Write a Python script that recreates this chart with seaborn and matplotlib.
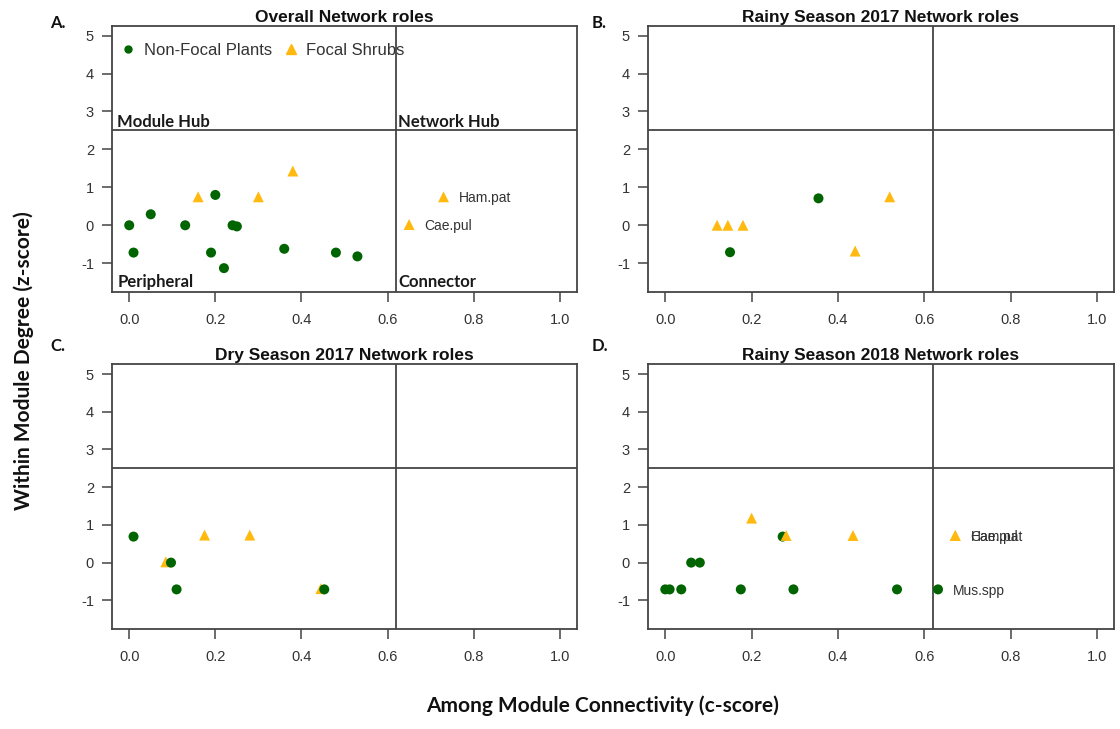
import matplotlib
matplotlib.use("Agg")
import matplotlib.pyplot as plt
import seaborn as sns
import pandas as pd
from matplotlib.lines import Line2D

NONFOCAL = "Non-Focal Plants"
FOCAL = "Focal Shrubs"

# ---- network roles: among-module connectivity (c) and within-module degree (z)
overall_c = [0.00, 0.01, 0.05, 0.13, 0.20, 0.19, 0.22, 0.24, 0.25, 0.36, 0.48, 0.53,
             0.16, 0.30, 0.38, 0.73, 0.65]
overall_z = [0.00, -0.72, 0.29, 0.00, 0.80, -0.72, -1.13, 0.00, -0.03, -0.62, -0.72, -0.82,
             0.75, 0.75, 1.43, 0.75, 0.02]
overall_kind = [NONFOCAL] * 12 + [FOCAL] * 5
overall_name = [""] * 15 + ["Ham.pat", "Cae.pul"]

rainy17_c = [0.355, 0.15, 0.12, 0.145, 0.18, 0.52, 0.44]
rainy17_z = [0.71, -0.71, 0.00, 0.00, 0.00, 0.75, -0.68]
rainy17_kind = [NONFOCAL] * 2 + [FOCAL] * 5
rainy17_name = [""] * 7

dry17_c = [0.085, 0.175, 0.28, 0.445, 0.01, 0.097, 0.11, 0.453]
dry17_z = [0.02, 0.73, 0.73, -0.69, 0.69, 0.00, -0.71, -0.71]
dry17_kind = [FOCAL] * 4 + [NONFOCAL] * 4
dry17_name = [""] * 8

rainy18_c = [0.00, 0.01, 0.037, 0.06, 0.08, 0.175, 0.272, 0.297, 0.537, 0.632,
             0.20, 0.28, 0.435, 0.672, 0.672]
rainy18_z = [-0.71, -0.71, -0.71, 0.00, 0.00, -0.71, 0.69, -0.71, -0.71, -0.71,
             1.18, 0.72, 0.72, 0.72, 0.72]
rainy18_kind = [NONFOCAL] * 10 + [FOCAL] * 5
rainy18_name = [""] * 9 + ["Mus.spp", "", "", "", "Cae.pul", "Ham.pat"]

panel_titles = ["Overall Network roles", "Rainy Season 2017 Network roles",
                "Dry Season 2017 Network roles", "Rainy Season 2018 Network roles"]
panel_letters = ["A.", "B.", "C.", "D."]
x_ticks = [0.0, 0.2, 0.4, 0.6, 0.8, 1.0]
y_ticks = [-1, 0, 1, 2, 3, 4, 5]
c_threshold = 0.62
z_threshold = 2.5

panels = [
    (overall_c, overall_z, overall_kind, overall_name),
    (rainy17_c, rainy17_z, rainy17_kind, rainy17_name),
    (dry17_c, dry17_z, dry17_kind, dry17_name),
    (rainy18_c, rainy18_z, rainy18_kind, rainy18_name),
]

GREEN = "#006400"
GOLD = "#FFB90F"
INK = "#333333"
FRAME = "#444444"

sns.set_theme(style="white")
plt.rcParams["font.family"] = ["Liberation Sans", "DejaVu Sans"]
HEAVY = ["Lato", "DejaVu Sans"]

fig = plt.figure(figsize=(11.2, 7.29), dpi=100)
rects = [
    [0.1000, 0.5994, 0.4152, 0.3653],
    [0.5786, 0.5994, 0.4161, 0.3653],
    [0.1000, 0.1372, 0.4152, 0.3631],
    [0.5786, 0.1372, 0.4161, 0.3631],
]
letter_pos = [(0.045, 0.968), (0.528, 0.968), (0.045, 0.525), (0.528, 0.525)]

for i, ((c, z, kind, name), rect) in enumerate(zip(panels, rects)):
    ax = fig.add_axes(rect)
    df = pd.DataFrame({"c": c, "z": z, "kind": kind, "name": name})
    sns.scatterplot(
        data=df, x="c", y="z", hue="kind", style="kind", size="kind",
        palette={NONFOCAL: GREEN, FOCAL: GOLD},
        markers={NONFOCAL: "o", FOCAL: "^"},
        sizes={NONFOCAL: 52, FOCAL: 62},
        linewidth=0, legend=False, ax=ax, zorder=3,
    )
    ax.set_xlim(-0.04, 1.04)
    ax.set_ylim(-1.76, 5.26)
    ax.axvline(c_threshold, color=FRAME, lw=1.3, zorder=2)
    ax.axhline(z_threshold, color=FRAME, lw=1.3, zorder=2)
    ax.set_xticks(x_ticks)
    ax.set_xticklabels([f"{t:.1f}" for t in x_ticks])
    ax.set_yticks(y_ticks)
    ax.set_yticklabels([str(t) for t in y_ticks])
    ax.tick_params(axis="both", direction="out", length=7, width=1.1, color=FRAME,
                   labelsize=10.5, labelcolor=INK, bottom=True, left=True)
    ax.tick_params(axis="x", pad=8)
    ax.tick_params(axis="y", pad=6)
    ax.set_xlabel("")
    ax.set_ylabel("")
    for sp in ax.spines.values():
        sp.set_color(FRAME)
        sp.set_linewidth(1.3)
    ax.set_title(panel_titles[i], fontsize=12.5, fontweight="bold", color="#111111", pad=3)

    for xc, yz, nm in zip(df["c"], df["z"], df["name"]):
        if nm:
            ax.annotate(nm, (xc, yz), xytext=(11, -1), textcoords="offset points",
                        va="center", ha="left", fontsize=10, color=INK, zorder=4)

    if i == 0:
        quad = dict(fontsize=12, fontweight="bold", family=HEAVY, color="#1a1a1a")
        ax.text(-0.028, 2.58, "Module Hub", va="baseline", ha="left", **quad)
        ax.text(0.625, 2.58, "Network Hub", va="baseline", ha="left", **quad)
        ax.text(-0.028, -1.62, "Peripheral", va="baseline", ha="left", **quad)
        ax.text(0.625, -1.62, "Connector", va="baseline", ha="left", **quad)
        handles = [
            Line2D([], [], ls="none", marker="o", ms=5, color=GREEN, label=NONFOCAL),
            Line2D([], [], ls="none", marker="^", ms=7, color=GOLD, label=FOCAL),
        ]
        ax.legend(handles=handles, loc="upper left", bbox_to_anchor=(-0.015, 0.992),
                  ncol=2, frameon=False, fontsize=12, labelcolor=INK,
                  handlelength=1.0, handletextpad=0.45, columnspacing=0.6,
                  borderaxespad=0.5)

    fig.text(letter_pos[i][0], letter_pos[i][1], panel_letters[i], fontsize=12,
             fontweight="bold", family=HEAVY, color="#111111", ha="left", va="center")

fig.text(0.538, 0.018, "Among Module Connectivity (c-score)", fontsize=15,
         fontweight="bold", family=HEAVY, color="#111111", ha="center", va="bottom")
fig.text(0.021, 0.505, "Within Module Degree (z-score)", fontsize=15, rotation=90,
         fontweight="bold", family=HEAVY, color="#111111", ha="center", va="center")

fig.savefig("out.png", dpi=100)
